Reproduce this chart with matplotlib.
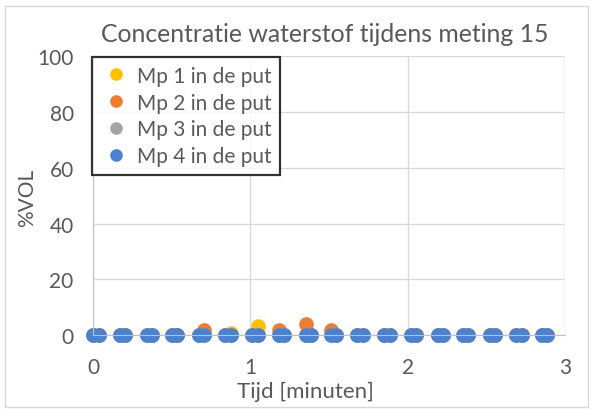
import matplotlib.pyplot as plt
from matplotlib.patches import Rectangle

# tijd in minuten, twee metingen per blok
tijd = [0.00, 0.035, 0.17, 0.205, 0.34, 0.375, 0.50, 0.535, 0.67, 0.705,
        0.84, 0.875, 1.01, 1.045, 1.18, 1.215, 1.35, 1.385, 1.51, 1.545,
        1.68, 1.715, 1.85, 1.885, 2.02, 2.055, 2.19, 2.225, 2.35, 2.385,
        2.52, 2.555, 2.69, 2.725, 2.85, 2.885]

mp1 = [0, 0, 0, 0, 0, 0, 0, 0, 0, 0, 0, 0.8, 0, 3.2, 0, 0, 0, 0,
       0, 0, 0, 0, 0, 0, 0, 0, 0, 0, 0, 0, 0, 0, 0, 0, 0, 0]
mp2 = [0, 0, 0, 0, 0, 0, 0, 0, 0, 2.0, 0, 0, 0, 0, 1.8, 0, 4.0, 0,
       1.8, 0, 0, 0, 0, 0, 0, 0, 0, 0, 0, 0, 0, 0, 0, 0, 0, 0]
mp3 = [0] * 36
mp4 = [0] * 36

labels = ['Mp 1 in de put', 'Mp 2 in de put', 'Mp 3 in de put', 'Mp 4 in de put']
colors = ['#FFC000', '#ED7D31', '#A5A5A5', '#4A82CF']

plt.rcParams['font.family'] = ['Lato', 'DejaVu Sans']
txt = '#595959'

fig = plt.figure(figsize=(5.93, 4.10), dpi=100)
ax = fig.add_axes([0.157, 0.180, 0.796, 0.681])

for serie, lab, col in zip([mp1, mp2, mp3, mp4], labels, colors):
    ax.plot(tijd, serie, 'o', color=col, markersize=9.5, label=lab, clip_on=False)

ax.set_xlim(0, 3)
ax.set_ylim(0, 100)
ax.set_xticks([0, 1, 2, 3])
ax.set_yticks([0, 20, 40, 60, 80, 100])
ax.grid(True, color='#D9D9D9', linewidth=1)
ax.set_axisbelow(True)
for s in ['top', 'right']:
    ax.spines[s].set_visible(False)
for s in ['left', 'bottom']:
    ax.spines[s].set_color('#BFBFBF')
ax.tick_params(axis='both', length=0, labelsize=15, labelcolor=txt)
ax.tick_params(axis='y', pad=14)
ax.tick_params(axis='x', pad=16)

fig.text(0.548, 0.915, 'Concentratie waterstof tijdens meting 15', fontsize=17.8,
         color=txt, ha='center', va='center')
ax.set_xlabel('Tijd [minuten]', fontsize=16, color=txt)
ax.xaxis.set_label_coords(0.449, -0.163)
ax.set_ylabel('%VOL', fontsize=15, color=txt)
ax.yaxis.set_label_coords(-0.119, 0.495)

leg = ax.legend(loc='upper left', bbox_to_anchor=(-0.002, 0.995), borderaxespad=0,
                fontsize=15, frameon=True, fancybox=False, handletextpad=0.25,
                handlelength=1.5, borderpad=0.4, labelspacing=0.33,
                markerscale=0.85)
leg.get_frame().set_edgecolor('black')
leg.get_frame().set_linewidth(1.6)
for t in leg.get_texts():
    t.set_color(txt)

fig.patches.append(Rectangle((0.009, 0.005), 0.982, 0.978, transform=fig.transFigure,
                             fill=False, edgecolor='#D9D9D9', linewidth=1))

plt.savefig('out.png', dpi=100)
